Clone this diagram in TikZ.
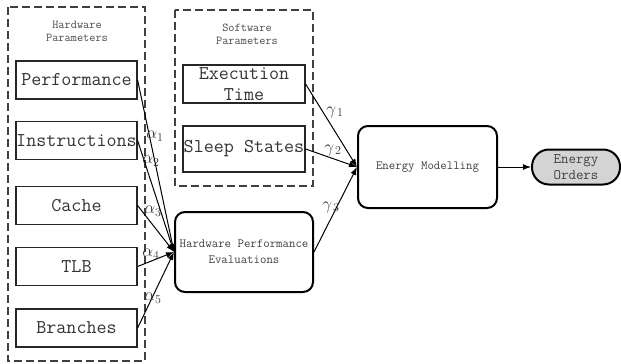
\documentclass[tikz,border=0pt]{standalone}
\usetikzlibrary{arrows.meta}
\begin{document}
\begin{tikzpicture}[x=1pt,y=-1pt,
 pbox/.style={draw=black!85, line width=1.2pt, minimum width=121pt, minimum height=38pt, inner sep=0pt, text=black!80, font=\fontsize{19.5}{22}\selectfont\ttfamily, align=center},
 rbox/.style={draw=black, line width=2pt, rounded corners=10pt, inner sep=0pt, text=black!75, font=\fontsize{12.5}{16}\selectfont\ttfamily, align=center},
 grp/.style={draw=black!75, line width=1.3pt, dash pattern=on 8pt off 4pt},
 ttl/.style={text=black!70, font=\fontsize{12}{13}\selectfont\ttfamily, align=center, inner sep=0pt},
 arr/.style={-{Latex[length=8pt,width=6pt]}, line width=1pt},
 lab/.style={text=black!80, font=\fontsize{17}{17}\selectfont, inner sep=0pt}]
\useasboundingbox (0,0) rectangle (621,364);
% group boxes
\draw[grp] (8,7) rectangle (145,361);
\draw[grp] (175,10) rectangle (313,186);
\node[ttl] (hwt) at (77,31) {Hardware\\Parameters};
\node[ttl] (swt) at (247,34) {Software\\Parameters};
% hardware parameter boxes
\node[pbox] (perf) at (76.5,80) {Performance};
\node[pbox] (inst) at (76.5,140.5) {Instructions};
\node[pbox] (cache) at (76.5,205.5) {Cache};
\node[pbox] (tlb) at (76.5,266.5) {TLB};
\node[pbox] (br) at (76.5,328) {Branches};
% software parameter boxes
\node[pbox, minimum width=122pt, minimum height=38pt, font=\fontsize{19.5}{23}\selectfont\ttfamily] (exec) at (244,84) {Execution\\[-2pt]Time};
\node[pbox, minimum width=122pt, minimum height=46pt] (sleep) at (244,149) {Sleep States};
% main boxes
\node[rbox, minimum width=138pt, minimum height=80pt] (hpe) at (244,252) {Hardware Performance\\Evaluations};
\node[rbox, minimum width=139pt, minimum height=82pt] (em) at (427.5,167) {Energy Modelling};
\node[draw=black, line width=2pt, fill=black!17, rounded corners=17pt, minimum width=88pt, minimum height=35pt, inner sep=0pt, text=black!75, font=\fontsize{14.5}{16}\selectfont\ttfamily, align=center] (eo) at (576,167) {Energy\\Orders};
% arrows
\draw[arr] (perf.east) -- (hpe.west);
\draw[arr] (inst.east) -- (hpe.west);
\draw[arr] (cache.east) -- (hpe.west);
\draw[arr] (tlb.east) -- (hpe.west);
\draw[arr] (br.east) -- (hpe.west);
\draw[arr] (exec.east) -- (em.west);
\draw[arr] (sleep.east) -- (em.west);
\draw[arr] (hpe.east) -- (em.west);
\draw[arr] (em.east) -- (eo.west);
% labels
\node[lab] (a1) at (155,136) {$\alpha_1$};
\node[lab] (a2) at (151,161) {$\alpha_2$};
\node[lab] (a3) at (153,211) {$\alpha_3$};
\node[lab] (a4) at (151,254) {$\alpha_4$};
\node[lab] (a5) at (153,298) {$\alpha_5$};
\node[lab] (g1) at (335,112) {$\gamma_{\,1}$};
\node[lab] (g2) at (333,150) {$\gamma_{\,2}$};
\node[lab] (g3) at (331,207) {$\gamma_{\,3}$};
\end{tikzpicture}
\end{document}
